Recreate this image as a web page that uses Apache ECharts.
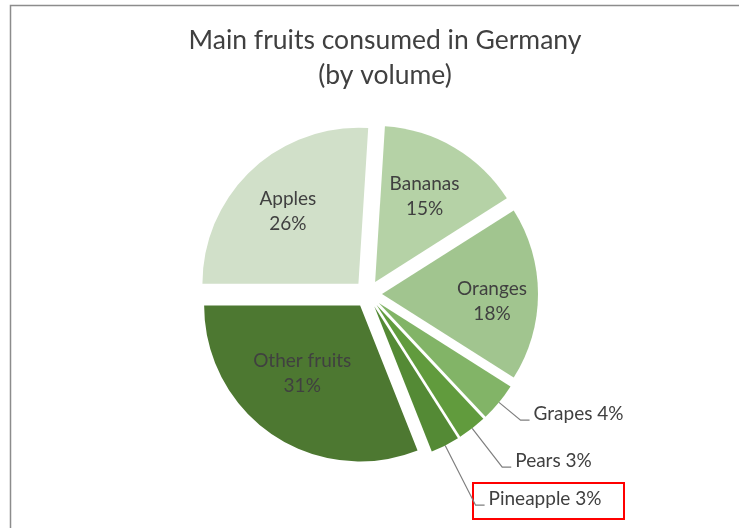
<!DOCTYPE html>
<html><head><meta charset="utf-8">
<script src="https://cdn.jsdelivr.net/npm/echarts@6/dist/echarts.min.js"></script>
<style>html,body{margin:0;padding:0;background:#fff}#c{width:739px;height:528px}</style>
</head><body><div id="c"></div>
<script>
// ---- data ----
const titleLines = ['Main fruits consumed in Germany', '(by volume)'];
const categories = ['Bananas', 'Oranges', 'Grapes', 'Pears', 'Pineapple', 'Other fruits', 'Apples'];
const values = [15, 18, 4, 3, 3, 31, 26];

// ---- styles ----
const colors = ['#B5D2A6', '#A1C58F', '#82B467', '#619B3D', '#548A35', '#4D7831', '#D1E0C9'];
const outsideLineLen = { 'Grapes': 28, 'Pears': 49, 'Pineapple': 67 };
const insideLabelNudge = { 'Bananas': [-3, 3], 'Oranges': [7, 7], 'Other fruits': [0, -17], 'Apples': [0, 3] };
const FONT = 'Lato';
const TXT = '#404040';

const chart = echarts.init(document.getElementById('c'), null, { renderer: 'canvas' });

const common = {
  type: 'pie',
  center: [368, 294],
  startAngle: 86.4,
  clockwise: true,
  selectedMode: 'multiple',
  selectedOffset: 14,
  avoidLabelOverlap: false,
  animation: false,
  emphasis: { disabled: true },
  silent: true
};

const mainData = categories.map((n, i) => {
  const out = n in outsideLineLen;
  return {
    name: n, value: values[i], selected: true,
    itemStyle: { color: colors[i] },
    label: { show: out },
    labelLine: { show: out, length: out ? outsideLineLen[n] : 0 }
  };
});

const labelData = categories.map((n, i) => ({
  name: n, value: values[i], selected: true,
  label: { show: !(n in outsideLineLen) }
}));

chart.setOption({
  backgroundColor: '#ffffff',
  animation: false,
  title: {
    text: titleLines.join('\n'),
    left: 380, top: 18, textAlign: 'center',
    textStyle: { fontFamily: FONT, fontSize: 26.5, fontWeight: 'normal', color: TXT, lineHeight: 35 }
  },
  series: [
    Object.assign({}, common, {
      radius: 156,
      data: mainData,
      label: {
        position: 'outside',
        formatter: p => '{t|' + p.name + ' ' + p.value + '%}',
        rich: { t: { fontFamily: FONT, fontSize: 19, color: TXT, lineHeight: 20, padding: [0, 0, 12, 0] } },
        distanceToLabelLine: 4
      },
      labelLine: { length2: 9, smooth: false, lineStyle: { color: '#7f7f7f', width: 1.2 } }
    }),
    Object.assign({}, common, {
      radius: [44, 156],
      data: labelData,
      itemStyle: { color: 'rgba(0,0,0,0)' },
      label: {
        position: 'inside', fontFamily: FONT, fontSize: 19, color: TXT, lineHeight: 25,
        formatter: p => p.name + '\n' + p.value + '%'
      },
      labelLayout: p => {
        const n = insideLabelNudge[categories[p.dataIndex]];
        return n ? { dx: n[0], dy: n[1] } : {};
      },
      labelLine: { show: false }
    })
  ],
  graphic: [
    { type: 'rect', shape: { x: 10.5, y: 5.5, width: 800, height: 600 },
      style: { fill: 'none', stroke: '#8c8c8c', lineWidth: 1.5 }, silent: true },
    { type: 'rect', shape: { x: 473, y: 483, width: 151, height: 36 },
      style: { fill: 'none', stroke: '#ff0000', lineWidth: 2 }, silent: true }
  ]
});
</script>
</body></html>
